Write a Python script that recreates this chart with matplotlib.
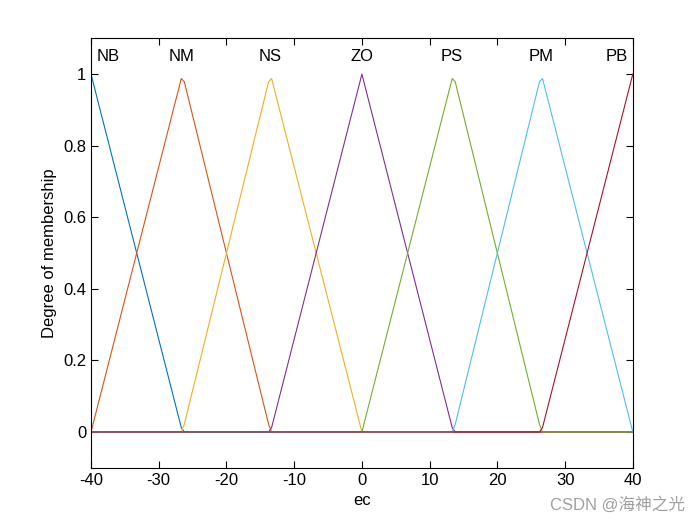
import numpy as np
from matplotlib import pyplot as plt

plt.rcParams['font.family'] = ['Liberation Sans', 'Noto Sans CJK SC', 'DejaVu Sans']
plt.rcParams['axes.unicode_minus'] = False

# triangular membership functions of ec: (a, b, c)
names = ["NB", "NM", "NS", "ZO", "PS", "PM", "PB"]
params = [[-40, -40, -26.5],
          [-40, -26.5, -13.5],
          [-26.5, -13.5, 0],
          [-13.5, 0, 13.5],
          [0, 13.5, 26.5],
          [13.5, 26.5, 40],
          [26.5, 40, 40]]
label_x = [-37.5, -26.6, -13.6, 0, 13.3, 26.5, 37.6]
colors = ["#0072BD", "#D95319", "#EDB120", "#7E2F8E", "#77AC30", "#4DBEEE", "#A2142F"]

x = np.linspace(-40, 40, 181)

def trimf(x, a, b, c):
    left = np.ones_like(x) if b == a else (x - a) / (b - a)
    right = np.ones_like(x) if c == b else (c - x) / (c - b)
    return np.clip(np.minimum(left, right), 0, 1)

fig = plt.figure(figsize=(7, 5.25), dpi=100)
ax = fig.add_axes([0.13, 0.109, 0.774, 0.818])

for p, col in zip(params, colors):
    ax.plot(x, trimf(x, *p), color=col, lw=0.8)

for nm, lx in zip(names, label_x):
    ax.text(lx, 1.05, nm, ha='center', va='center', fontsize=12)

ax.set_xlim(-40, 40)
ax.set_ylim(-0.1, 1.1)
ax.set_xticks(np.arange(-40, 41, 10))
ax.set_yticks([0, 0.2, 0.4, 0.6, 0.8, 1])
ax.set_yticklabels(["0", "0.2", "0.4", "0.6", "0.8", "1"])
ax.tick_params(direction='in', top=True, right=True, labelsize=12, length=5, width=0.8)
for s in ax.spines.values():
    s.set_linewidth(0.8)
ax.set_xlabel("ec", fontsize=12)
ax.set_ylabel("Degree of membership", fontsize=12)

fig.text(0.978, 0.038, "CSDN @海神之光", ha='right', va='center', fontsize=12, color='#a0a0a0')

fig.savefig("out.png")
